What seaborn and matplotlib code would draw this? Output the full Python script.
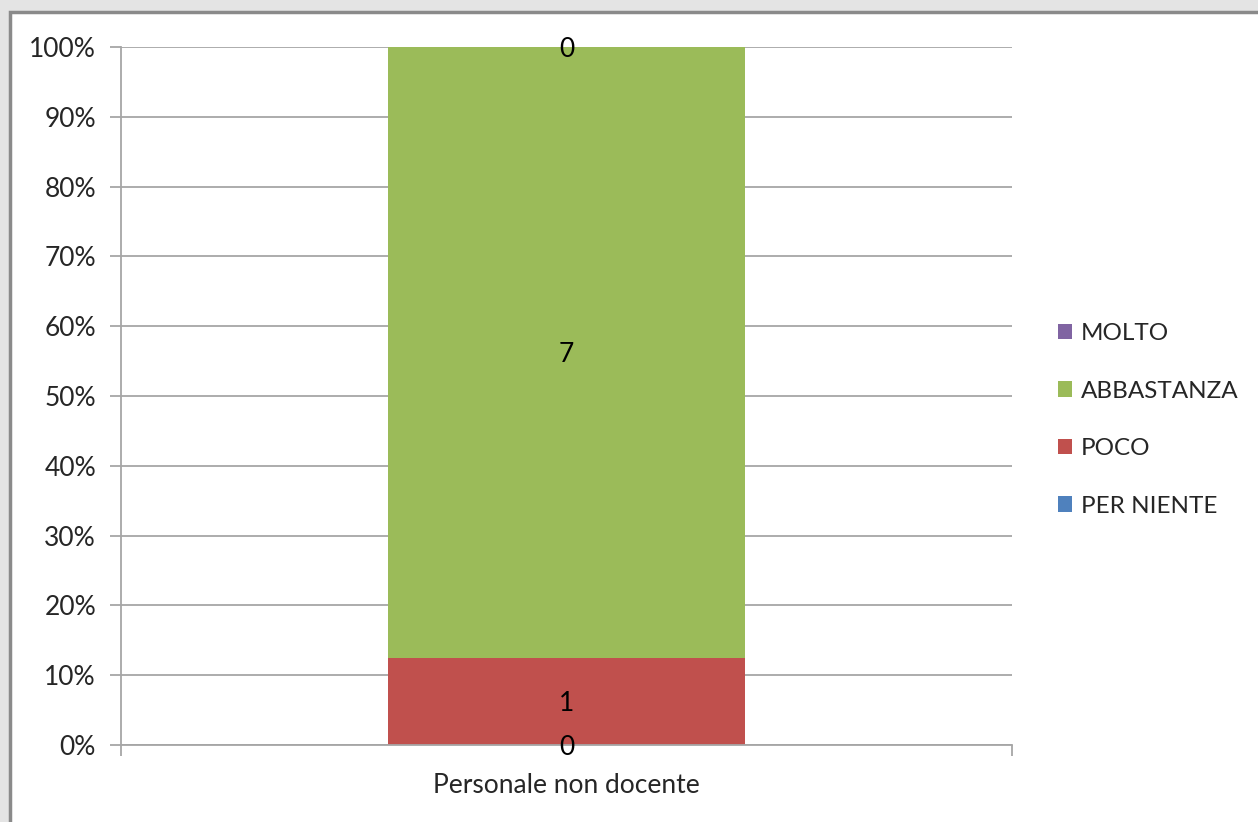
import matplotlib
matplotlib.use("Agg")
import matplotlib.pyplot as plt
import seaborn as sns
import numpy as np
import pandas as pd
from matplotlib.patches import Rectangle, Patch

categories = ["Personale non docente"]
series = ["PER NIENTE", "POCO", "ABBASTANZA", "MOLTO"]
values = [0, 1, 7, 0]
colors = ["#4F81BD", "#C0504D", "#9BBB59", "#8064A2"]
yticks = [0, 10, 20, 30, 40, 50, 60, 70, 80, 90, 100]
ytick_labels = ["0%", "10%", "20%", "30%", "40%", "50%", "60%", "70%", "80%", "90%", "100%"]

sns.set_theme(style="white")
plt.rcParams['font.family'] = ['Lato', 'DejaVu Sans']

FS = 19
LFS = 17.5

fig = plt.figure(figsize=(12.58, 8.22), dpi=100)
fig.patch.set_facecolor("#E4E4E4")
bg = Rectangle((10/1258, -0.05), 1.1, 1.05 - 12/822, transform=fig.transFigure,
               facecolor="white", edgecolor="#8A8A8A", linewidth=2.5, zorder=-10)
fig.add_artist(bg)

ax = fig.add_axes([121/1258, 1 - 745/822, (1012 - 121)/1258, (745 - 47)/822])
ax.set_zorder(5)
ax.set_facecolor("none")

total = sum(values)
pct = [v / total * 100 for v in values]
cum = np.cumsum(pct)
bottoms = cum - np.array(pct)

for i in reversed(range(len(series))):
    df = pd.DataFrame({"cat": categories, "val": [cum[i]]})
    sns.barplot(data=df, x="cat", y="val", color=colors[i], width=0.4, ax=ax,
                saturation=1, linewidth=0, zorder=2)

for i in range(len(series)):
    ax.text(0, bottoms[i] + pct[i] / 2, str(values[i]), ha="center", va="center_baseline",
            fontsize=FS, color="black", zorder=5)

ax.set_xlim(-0.5, 0.5)
ax.set_ylim(0, 100)
ax.set_yticks(yticks)
ax.set_yticklabels(ytick_labels, fontsize=FS)
ax.yaxis.grid(True, color="#A6A6A6", linewidth=1.3, zorder=0)
ax.set_axisbelow(True)
ax.set_xlabel("")
ax.set_ylabel("")
ax.set_xticks([0])
ax.set_xticklabels(categories, fontsize=FS)
ax.set_xticks([-0.5, 0.5], minor=True)
ax.tick_params(axis="x", which="major", length=0, pad=20)
ax.tick_params(axis="x", which="minor", length=8, width=1.3, color="#A6A6A6", direction="out", bottom=True)
ax.tick_params(axis="y", length=8, width=1.3, color="#A6A6A6", direction="out", left=True, pad=10)

for s in ["top", "right"]:
    ax.spines[s].set_visible(False)
for s in ["left", "bottom"]:
    ax.spines[s].set_color("#A6A6A6")
    ax.spines[s].set_linewidth(1.3)

handles = [Patch(facecolor=colors[i], edgecolor="none") for i in reversed(range(len(series)))]
labels = [series[i] for i in reversed(range(len(series)))]
fig.legend(handles, labels, loc="center left", bbox_to_anchor=(1036/1258, 1 - 420/822),
           frameon=False, fontsize=LFS, handlelength=0.6, handleheight=0.6,
           handletextpad=0.35, labelspacing=1.5)

fig.savefig("out.png", dpi=100)
